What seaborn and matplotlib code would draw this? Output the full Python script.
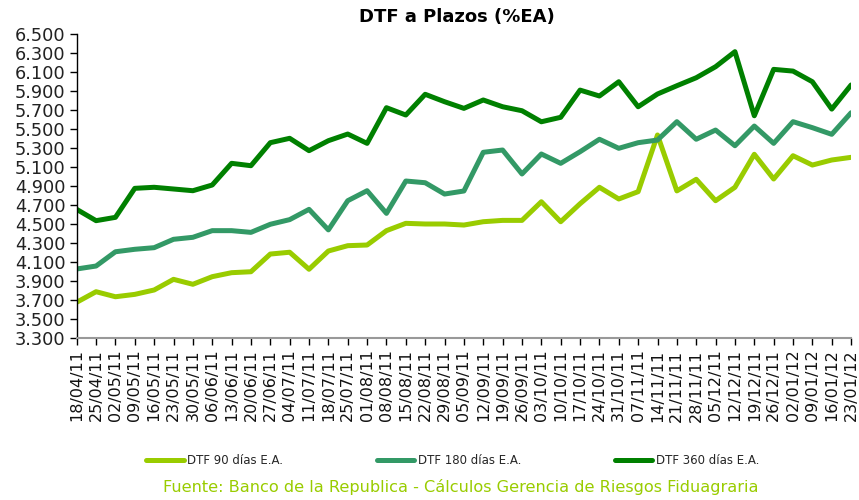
import numpy as np
import pandas as pd
import matplotlib
matplotlib.use("Agg")
import matplotlib.pyplot as plt
import seaborn as sns
from matplotlib.lines import Line2D

fechas = ["18/04/11", "25/04/11", "02/05/11", "09/05/11", "16/05/11", "23/05/11", "30/05/11",
          "06/06/11", "13/06/11", "20/06/11", "27/06/11", "04/07/11", "11/07/11", "18/07/11",
          "25/07/11", "01/08/11", "08/08/11", "15/08/11", "22/08/11", "29/08/11", "05/09/11",
          "12/09/11", "19/09/11", "26/09/11", "03/10/11", "10/10/11", "17/10/11", "24/10/11",
          "31/10/11", "07/11/11", "14/11/11", "21/11/11", "28/11/11", "05/12/11", "12/12/11",
          "19/12/11", "26/12/11", "02/01/12", "09/01/12", "16/01/12", "23/01/12"]

dtf_90 = [3.679, 3.790, 3.737, 3.762, 3.808, 3.920, 3.868, 3.948, 3.990, 4.000, 4.186,
          4.205, 4.026, 4.218, 4.274, 4.281, 4.432, 4.509, 4.502, 4.502, 4.491, 4.526,
          4.540, 4.540, 4.736, 4.526, 4.715, 4.888, 4.765, 4.842, 5.438, 4.850, 4.972,
          4.747, 4.888, 5.235, 4.975, 5.220, 5.122, 5.175, 5.203]

dtf_180 = [4.029, 4.060, 4.210, 4.236, 4.253, 4.341, 4.362, 4.432, 4.432, 4.414, 4.499,
           4.548, 4.656, 4.440, 4.747, 4.852, 4.614, 4.954, 4.936, 4.817, 4.849, 5.256,
           5.280, 5.028, 5.238, 5.140, 5.262, 5.393, 5.298, 5.357, 5.385, 5.578, 5.393,
           5.490, 5.325, 5.532, 5.350, 5.578, 5.515, 5.445, 5.672]

dtf_360 = [4.656, 4.537, 4.572, 4.877, 4.888, 4.870, 4.852, 4.912, 5.140, 5.115, 5.357,
           5.403, 5.273, 5.378, 5.448, 5.350, 5.725, 5.648, 5.866, 5.788, 5.718, 5.806,
           5.735, 5.693, 5.577, 5.624, 5.910, 5.848, 5.998, 5.735, 5.869, 5.956, 6.040,
           6.156, 6.314, 5.640, 6.128, 6.110, 5.998, 5.710, 5.964]

series = ["DTF 90 días E.A.", "DTF 180 días E.A.", "DTF 360 días E.A."]
colores = ["#99CC00", "#339966", "#008000"]
y_ticks = [3.3, 3.5, 3.7, 3.9, 4.1, 4.3, 4.5, 4.7, 4.9, 5.1, 5.3, 5.5, 5.7, 5.9, 6.1, 6.3, 6.5]

titulo = "DTF a Plazos (%EA)"
fuente = "Fuente: Banco de la Republica - Cálculos Gerencia de Riesgos Fiduagraria"

n = len(fechas)
df = pd.DataFrame({
    "idx": list(range(n)) * 3,
    "valor": dtf_90 + dtf_180 + dtf_360,
    "serie": [series[0]] * n + [series[1]] * n + [series[2]] * n,
})

sns.set_theme(style="white")
plt.rcParams["font.family"] = ["DejaVu Sans"]

fig = plt.figure(figsize=(8.59, 5.0), dpi=100)
ax = fig.add_axes([0.0893, 0.3234, 0.9015, 0.6086])

sns.lineplot(data=df, x="idx", y="valor", hue="serie", hue_order=series,
             palette=colores, linewidth=3.6, ax=ax, legend=False)

ax.set_xlim(0, n - 1)
ax.set_ylim(3.3, 6.5)
ax.set_xticks(range(n))
ax.set_xticklabels(fechas, rotation=90, fontsize=11.5, color="#111111")
ax.set_yticks(y_ticks)
ax.set_yticklabels([f"{v:.3f}" for v in y_ticks], fontsize=12.8, color="#222222")
ax.set_xlabel("")
ax.set_ylabel("")
ax.tick_params(axis="both", which="major", direction="out", length=5, width=1,
               color="#000000", pad=3, bottom=True, left=True)
for s in ["top", "right"]:
    ax.spines[s].set_visible(False)
ax.spines["left"].set_color("#000000")
ax.spines["bottom"].set_color("#999999")
ax.spines["left"].set_linewidth(1)
ax.spines["bottom"].set_linewidth(1.5)

fig.text(0.532, 0.966, titulo, ha="center", va="center", fontsize=13,
         fontweight="bold", color="#000000")

handles = [Line2D([0], [0], color=c, lw=3.6) for c in colores]
fig.legend(handles, series, loc="center", bbox_to_anchor=(0.527, 0.078), ncol=3,
           frameon=False, fontsize=8.5, handlelength=3.2, handletextpad=0.3,
           columnspacing=7.9)

fig.text(0.536, 0.026, fuente, ha="center", va="center", fontsize=11.6,
         color="#99CC00")

fig.savefig("out.png", dpi=100)
